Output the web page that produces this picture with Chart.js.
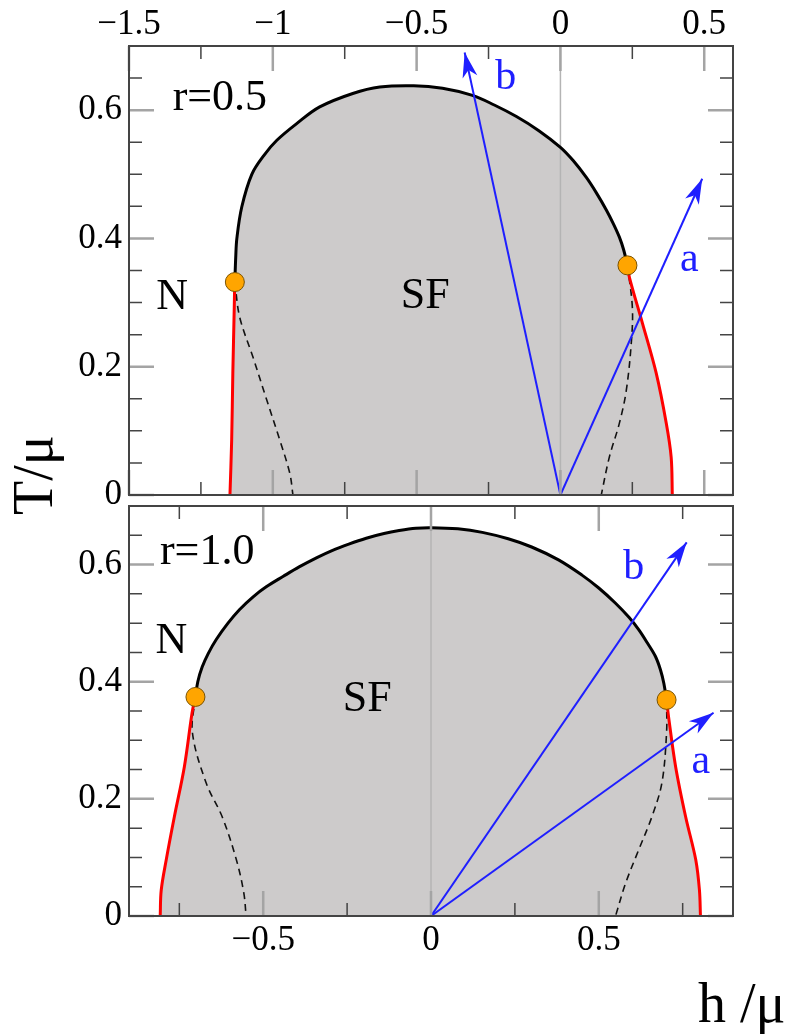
<!DOCTYPE html>
<html>
<head>
<meta charset="utf-8">
<title>Phase diagram T/mu vs h/mu</title>
<script src="https://cdn.jsdelivr.net/npm/chart.js@4.4.1/dist/chart.umd.min.js"></script>
<style>
  html, body { margin: 0; padding: 0; background: #fff; }
  #wrap { position: relative; width: 790px; height: 1034px; }
  #wrap canvas { position: absolute; left: 0; top: 0; }
</style>
</head>
<body>
<div id="wrap">
  <canvas id="topChart" width="790" height="1034"></canvas>
  <canvas id="bottomChart" width="790" height="1034"></canvas>
</div>
<script>
// ---- r = 0.5 (upper panel), points are [h/mu, T/mu] ----
const topBlack = [
  [-1.132, 0.332], [-1.129, 0.37], [-1.125, 0.40], [-1.108, 0.449], [-1.073, 0.50],
  [-1.03, 0.53], [-0.986, 0.553], [-0.917, 0.579], [-0.837, 0.605], [-0.722, 0.626],
  [-0.628, 0.636], [-0.51, 0.638], [-0.41, 0.634], [-0.306, 0.623], [-0.23, 0.608],
  [-0.153, 0.59], [-0.075, 0.568], [0.0, 0.542], [0.045, 0.521], [0.09, 0.495],
  [0.125, 0.471], [0.16, 0.444], [0.185, 0.422], [0.205, 0.402], [0.22, 0.382],
  [0.233, 0.358],
];
const topRedLeft = [[-1.149, 0], [-1.143, 0.086], [-1.139, 0.19], [-1.134, 0.293], [-1.1325, 0.332]];
const topRedRight = [[0.233, 0.358], [0.24, 0.339], [0.285, 0.268], [0.333, 0.19], [0.368, 0.112], [0.385, 0.059], [0.389, 0]];
const topDashLeft = [[-1.132, 0.332], [-1.115, 0.277], [-1.069, 0.215], [-1.021, 0.148], [-0.976, 0.086], [-0.941, 0.034], [-0.93, 0]];
const topDashRight = [[0.233, 0.358], [0.25, 0.293], [0.247, 0.241], [0.229, 0.163], [0.205, 0.112], [0.170, 0.059], [0.142, 0]];
const topCritical = [[-1.132, 0.332], [0.233, 0.358]];
const topArrowA = [[0, 0], [0.493, 0.493]];
const topArrowB = [[0, 0], [-0.333, 0.690]];
const topNotes = [["r=0.5", -1.184, 0.618], ["N", -1.35, 0.308], ["SF", -0.47, 0.31], ["b", -0.19, 0.65], ["a", 0.448, 0.366]];
const topXTicks = [-1.5, -1, -0.5, 0, 0.5];
const topXLabels = ["\u22121.5", "\u22121", "\u22120.5", "0", "0.5"];

// ---- r = 1.0 (lower panel) ----
const bottomBlack = [
  [-0.702, 0.374], [-0.695, 0.40], [-0.682, 0.425], [-0.664, 0.448], [-0.64, 0.472],
  [-0.605, 0.50], [-0.571, 0.523], [-0.53, 0.545], [-0.491, 0.562], [-0.44, 0.58],
  [-0.393, 0.596], [-0.34, 0.612], [-0.295, 0.624], [-0.245, 0.635], [-0.193, 0.645],
  [-0.14, 0.653], [-0.095, 0.658], [-0.045, 0.662], [0.0, 0.663], [0.08, 0.661],
  [0.153, 0.655], [0.23, 0.644], [0.30, 0.630], [0.38, 0.608], [0.45, 0.582],
  [0.50, 0.560], [0.55, 0.534], [0.59, 0.51], [0.619, 0.489], [0.645, 0.466],
  [0.669, 0.443], [0.684, 0.42], [0.694, 0.397], [0.702, 0.369],
];
const bottomRedLeft = [[-0.807, 0], [-0.804, 0.044], [-0.789, 0.096], [-0.765, 0.169], [-0.735, 0.255], [-0.712, 0.347], [-0.7025, 0.374]];
const bottomRedRight = [[0.702, 0.369], [0.708, 0.34], [0.729, 0.255], [0.759, 0.169], [0.789, 0.096], [0.80, 0.044], [0.803, 0]];
const bottomDashLeft = [[-0.702, 0.374], [-0.711, 0.313], [-0.670, 0.227], [-0.622, 0.169], [-0.580, 0.096], [-0.558, 0.04], [-0.551, 0]];
const bottomDashRight = [[0.702, 0.369], [0.702, 0.313], [0.688, 0.227], [0.658, 0.169], [0.619, 0.113], [0.58, 0.056], [0.55, 0]];
const bottomCritical = [[-0.702, 0.374], [0.702, 0.369]];
const bottomArrowA = [[0, 0], [0.842, 0.347]];
const bottomArrowB = [[0, 0], [0.762, 0.638]];
const bottomNotes = [["r=1.0", -0.667, 0.62], ["N", -0.774, 0.468], ["SF", -0.19, 0.369], ["b", 0.604, 0.595], ["a", 0.804, 0.263]];
const bottomXTicks = [-0.5, 0, 0.5];
const bottomXLabels = ["\u22120.5", "0", "0.5"];

const yTicks = [0, 0.2, 0.4, 0.6];
const yLabels = ["0", "0.2", "0.4", "0.6"];

const SERIF = "'Liberation Serif', 'Times New Roman', serif";
const BLUE = "#1f1fff";

function pts(list) {
  return list.map(([x, y]) => ({ x, y }));
}

function minorValues(min, max, step, majors) {
  const out = [];
  for (let v = Math.ceil(min / step - 1e-9) * step; v <= max + 1e-9; v += step) {
    if (!majors.some((m) => Math.abs(m - v) < 1e-6)) out.push(v);
  }
  return out;
}

// box + inward ticks on all four sides
const framePlugin = {
  id: "frame",
  afterDatasetsDraw(chart, args, opts) {
    const { ctx, chartArea: a } = chart;
    const xs = chart.scales.x;
    const ys = chart.scales.y;
    ctx.save();
    const tick = (list, len, color, width, horizontal) => {
      ctx.strokeStyle = color;
      ctx.lineWidth = width;
      ctx.beginPath();
      list.forEach((v) => {
        if (horizontal) {
          const px = xs.getPixelForValue(v);
          ctx.moveTo(px, a.top); ctx.lineTo(px, a.top + len);
          ctx.moveTo(px, a.bottom); ctx.lineTo(px, a.bottom - len);
        } else {
          const py = ys.getPixelForValue(v);
          ctx.moveTo(a.left, py); ctx.lineTo(a.left + len, py);
          ctx.moveTo(a.right, py); ctx.lineTo(a.right - len, py);
        }
      });
      ctx.stroke();
    };
    tick(minorValues(xs.min, xs.max, 0.25, opts.xMajor), 13, "#444", 1.5, true);
    tick(minorValues(ys.min, ys.max, 0.05, yTicks), 13, "#444", 1.5, false);
    tick(opts.xMajor, 25, "#a4a4a4", 2.5, true);
    tick(yTicks, 25, "#a4a4a4", 2.5, false);
    ctx.strokeStyle = "#444";
    ctx.lineWidth = 2;
    ctx.strokeRect(a.left, a.top, a.right - a.left, a.bottom - a.top);
    ctx.restore();
  },
};

// arrow heads on the blue vectors, plus panel labels
const notesPlugin = {
  id: "notes",
  afterDatasetsDraw(chart, args, opts) {
    const { ctx } = chart;
    ctx.save();
    chart.data.datasets.forEach((ds, i) => {
      if (!ds.arrow) return;
      const meta = chart.getDatasetMeta(i).data;
      const p0 = meta[meta.length - 2];
      const p1 = meta[meta.length - 1];
      const dx = p1.x - p0.x;
      const dy = p1.y - p0.y;
      const d = Math.hypot(dx, dy);
      const ux = dx / d, uy = dy / d;
      const L = 25, W = 7.5;
      ctx.fillStyle = BLUE;
      ctx.beginPath();
      ctx.moveTo(p1.x, p1.y);
      ctx.lineTo(p1.x - ux * L - uy * W, p1.y - uy * L + ux * W);
      ctx.lineTo(p1.x - ux * L * 0.72, p1.y - uy * L * 0.72);
      ctx.lineTo(p1.x - ux * L + uy * W, p1.y - uy * L - ux * W);
      ctx.closePath();
      ctx.fill();
    });
    ctx.textAlign = "center";
    ctx.textBaseline = "middle";
    opts.items.forEach(([text, h, t]) => {
      const isVector = text === "a" || text === "b";
      ctx.fillStyle = isVector ? BLUE : "#000";
      ctx.font = `${isVector ? 42 : 44}px ${SERIF}`;
      ctx.fillText(text, chart.scales.x.getPixelForValue(h), chart.scales.y.getPixelForValue(t));
    });
    ctx.restore();
  },
};

const titlesPlugin = {
  id: "axisTitles",
  afterDraw(chart) {
    const { ctx } = chart;
    ctx.save();
    ctx.fillStyle = "#000";
    ctx.font = `56px ${SERIF}`;
    ctx.textBaseline = "alphabetic";
    ctx.textAlign = "left";
    ctx.fillText("h /\u03bc", 698, 1022);
    ctx.translate(52, 475);
    ctx.rotate(-Math.PI / 2);
    ctx.textAlign = "center";
    ctx.fillText("T/\u03bc", 0, 0);
    ctx.restore();
  },
};

function lineSet(data, color, width, extra = {}) {
  return {
    data: pts(data),
    showLine: true,
    borderColor: color,
    borderWidth: width,
    pointRadius: 0,
    tension: 0.35,
    fill: false,
    order: 2,
    ...extra,
  };
}

function buildChart(canvasId, panel) {
  const area = panel.redLeft.concat(panel.black.slice(1), panel.redRight.slice(1));
  const dashed = { borderDash: [7, 5] };
  const datasets = [
    {
      data: pts(panel.critical),
      showLine: false,
      pointRadius: 9.5,
      pointBackgroundColor: "#ffa500",
      pointBorderColor: "#7a5200",
      pointBorderWidth: 1,
      order: 0,
    },
    lineSet(panel.arrowA, BLUE, 2, { tension: 0, order: 1, arrow: true }),
    lineSet(panel.arrowB, BLUE, 2, { tension: 0, order: 1, arrow: true }),
    lineSet(panel.black, "#000", 3),
    lineSet(panel.redLeft, "#ff0000", 3),
    lineSet(panel.redRight, "#ff0000", 3),
    lineSet(panel.dashLeft, "#111", 1.6, dashed),
    lineSet(panel.dashRight, "#111", 1.6, dashed),
    lineSet([[0, 0], [0, 0.7]], "#b4b4b4", 1.5, { tension: 0, order: 3 }),
    lineSet(area, "rgba(0,0,0,0)", 0, { fill: "origin", backgroundColor: "#cdcbcb", order: 4 }),
  ];

  const tickFont = { family: SERIF, size: 35 };

  return new Chart(document.getElementById(canvasId), {
    type: "scatter",
    data: { datasets },
    options: {
      responsive: false,
      animation: false,
      events: [],
      layout: { padding: panel.padding },
      plugins: {
        legend: { display: false },
        tooltip: { enabled: false },
        frame: { xMajor: panel.xTicks },
        notes: { items: panel.notes },
      },
      scales: {
        x: {
          type: "linear",
          position: panel.xPosition,
          min: panel.xMin,
          max: panel.xMax,
          grid: { display: false, drawTicks: false },
          border: { display: false },
          afterBuildTicks: (axis) => {
            axis.ticks = panel.xTicks.map((v) => ({ value: v }));
          },
          afterFit: (axis) => {
            axis.height = panel.xAxisHeight;
          },
          ticks: {
            callback: (value, index) => panel.xLabels[index],
            font: tickFont,
            color: "#000",
            padding: panel.xPadding,
            maxRotation: 0,
            autoSkip: false,
          },
        },
        y: {
          type: "linear",
          position: "left",
          min: 0,
          max: 0.7,
          grid: { display: false, drawTicks: false },
          border: { display: false },
          afterBuildTicks: (axis) => {
            axis.ticks = yTicks.map((v) => ({ value: v }));
          },
          afterFit: (axis) => {
            axis.width = 129;
          },
          ticks: {
            callback: (value, index) => yLabels[index],
            font: tickFont,
            color: "#000",
            padding: 7,
            autoSkip: false,
          },
        },
      },
    },
    plugins: panel.withTitles ? [framePlugin, notesPlugin, titlesPlugin] : [framePlugin, notesPlugin],
  });
}

buildChart("topChart", {
  black: topBlack,
  redLeft: topRedLeft,
  redRight: topRedRight,
  dashLeft: topDashLeft,
  dashRight: topDashRight,
  critical: topCritical,
  arrowA: topArrowA,
  arrowB: topArrowB,
  notes: topNotes,
  xTicks: topXTicks,
  xLabels: topXLabels,
  xMin: -1.5,
  xMax: 0.6,
  xPosition: "top",
  xAxisHeight: 46,
  xPadding: 0,
  padding: { top: 0, left: 0, right: 57, bottom: 539 },
  withTitles: false,
});

buildChart("bottomChart", {
  black: bottomBlack,
  redLeft: bottomRedLeft,
  redRight: bottomRedRight,
  dashLeft: bottomDashLeft,
  dashRight: bottomDashRight,
  critical: bottomCritical,
  arrowA: bottomArrowA,
  arrowB: bottomArrowB,
  notes: bottomNotes,
  xTicks: bottomXTicks,
  xLabels: bottomXLabels,
  xMin: -0.9,
  xMax: 0.9,
  xPosition: "bottom",
  xAxisHeight: 60,
  xPadding: 4,
  padding: { top: 506, left: 0, right: 57, bottom: 58 },
  withTitles: true,
});
</script>
</body>
</html>
